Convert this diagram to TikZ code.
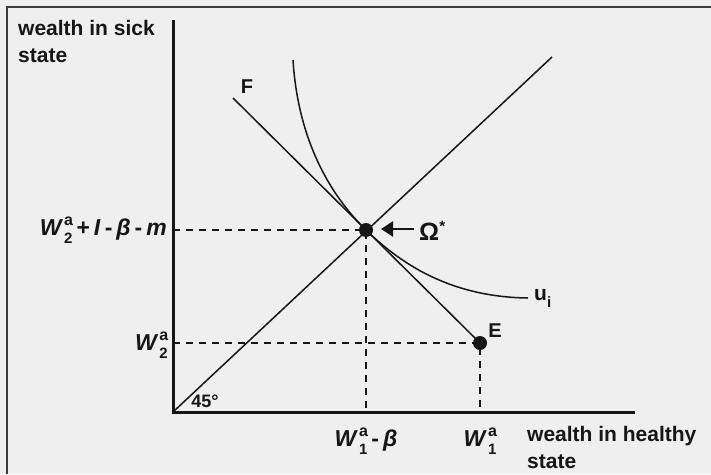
\documentclass[tikz,border=0pt]{standalone}
\usepackage{fontspec}
\setmainfont{Liberation Sans}
\usetikzlibrary{arrows.meta}
\definecolor{bg}{RGB}{239,239,239}
\definecolor{ink}{RGB}{22,22,22}
\definecolor{frame}{RGB}{60,60,60}
\newcommand\wsym[1]{\textit{W}\kern1pt\makebox[0pt][l]{\raisebox{10pt}{\fontsize{16}{16}\selectfont\bfseries\upshape a}}\raisebox{-8pt}{\fontsize{15}{15}\selectfont\bfseries\upshape #1}}
\newcommand\gapsp{\hspace{4pt}}
\begin{document}
\begin{tikzpicture}[x=1pt,y=-1pt,
  lbl/.style={font=\fontsize{21}{27}\selectfont\bfseries, inner sep=0pt, text=ink},
  sym/.style={font=\fontsize{23}{27}\selectfont\bfseries, inner sep=0pt, text=ink},
  axis/.style={line width=3pt, draw=ink},
  curveline/.style={line width=1.5pt, draw=ink},
  dashline/.style={line width=1.5pt, draw=ink, dash pattern=on 7pt off 6pt},
  dot/.style={circle, fill=ink, minimum size=14pt, inner sep=0pt},
]
\useasboundingbox (0,0) rectangle (711,474);
\fill[bg] (0,0) rectangle (711,474);
\draw[line width=2pt, frame] (7,474) -- (7,7) -- (711,7);

% axes
\coordinate (O) at (173,412);
\coordinate (ytop) at (173,20);
\coordinate (xend) at (635,412);
\draw[axis] (ytop) -- (O) -- (xend);

% 45 degree line
\coordinate (top45) at (552,57);
\draw[curveline] (O) -- (top45);

% budget line
\coordinate (F) at (233,98);
\node[dot] (omega) at (366,230) {};
\node[dot] (E) at (480,343) {};
\draw[curveline] (F) -- (omega.center) -- (E.center);

% indifference curve
\coordinate (ustart) at (293,60);
\coordinate (uend) at (528,298);
\draw[curveline] (ustart) .. controls (298,140) and (330,195) .. (omega.center)
  .. controls (405,268) and (455,297) .. (uend);

% dashed guides
\coordinate (yom) at (173,230);
\coordinate (xom) at (366,412);
\coordinate (yE) at (173,343);
\coordinate (xE) at (480,412);
\draw[dashline] (yom) -- (omega.center) -- (xom);
\draw[dashline] (yE) -- (E.center) -- (xE);

% arrow to Omega*
\coordinate (arrtail) at (414,229);
\coordinate (arrtip) at (381,229);
\draw[line width=2.2pt, ink, -{Triangle[length=12pt,width=15pt]}] (arrtail) -- (arrtip);
\node[sym, anchor=west] (omlab) at (419,231) {\fontsize{25}{27}\selectfont Ω\raisebox{9pt}{\fontsize{15}{15}\selectfont *}};

% labels
\node[lbl, anchor=north west, align=left] (ylab) at (18,20) {wealth in sick\\state};
\node[lbl, anchor=north west, align=left] (xlab) at (527,426) {wealth in healthy\\state};
\node[lbl, font=\fontsize{20}{20}\selectfont\bfseries] (Flab) at (247,87) {F};
\node[lbl, font=\fontsize{20}{20}\selectfont\bfseries] (Elab) at (495,331) {E};
\node[lbl, anchor=west] (ulab) at (534,298) {u\raisebox{-7pt}{\fontsize{15}{15}\selectfont\bfseries i}};
\node[lbl, font=\fontsize{18}{18}\selectfont\bfseries] (deg) at (205,401) {45°};

\node[sym, anchor=east] (w2top) at (167,230) {\wsym{2}\gapsp+\gapsp\textit{I}\gapsp-\gapsp\textit{β}\gapsp-\gapsp\textit{m}};
\node[sym, anchor=east] (w2) at (168,345) {\wsym{2}};
\node[sym] (w1b) at (366,441) {\wsym{1}\gapsp-\gapsp\textit{β}};
\node[sym] (w1) at (480,441) {\wsym{1}};
\end{tikzpicture}
\end{document}
